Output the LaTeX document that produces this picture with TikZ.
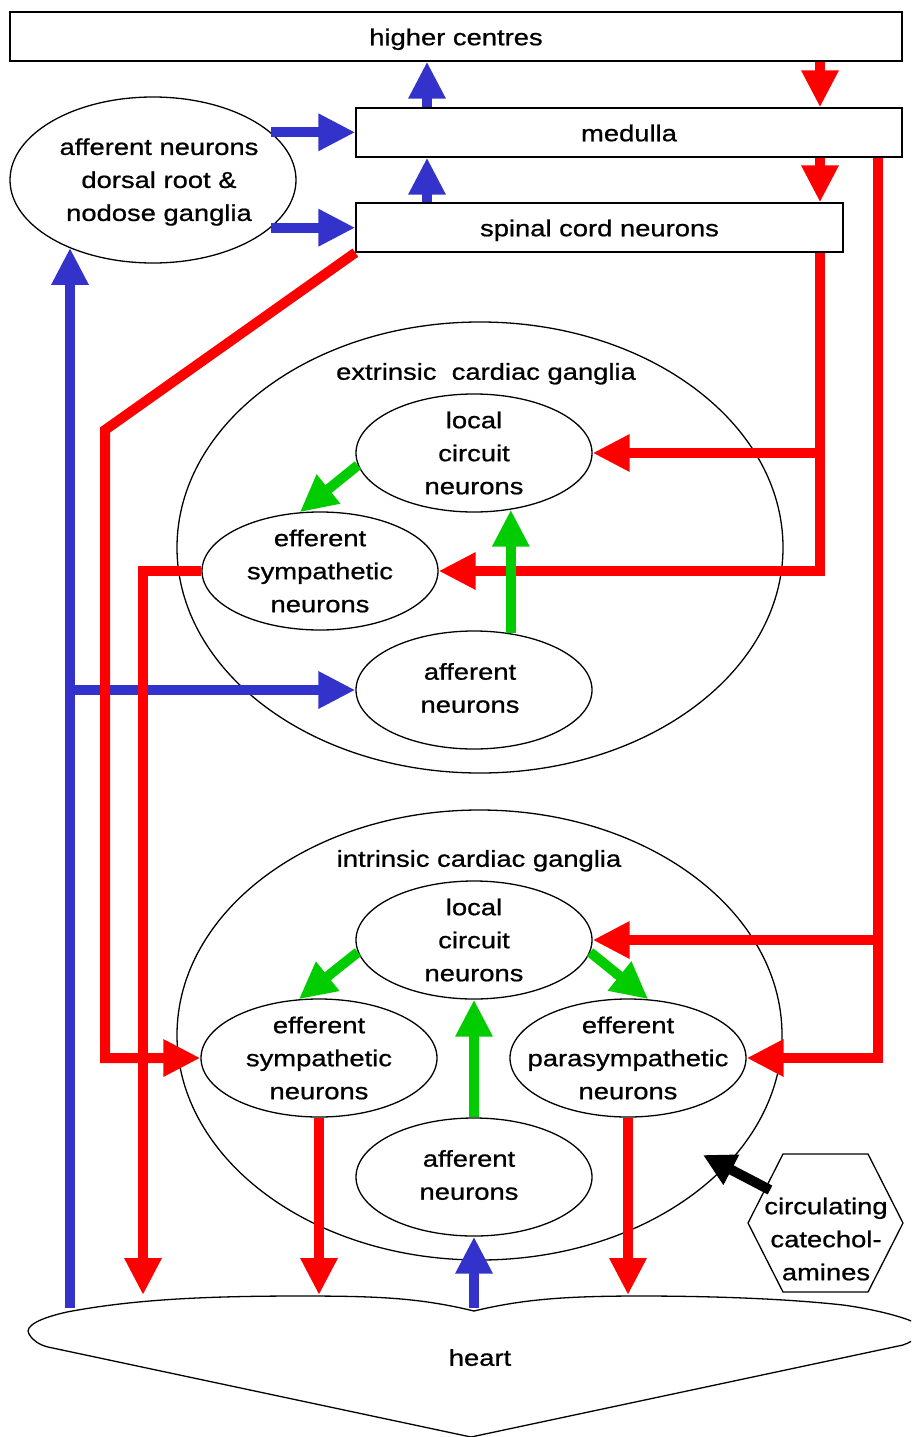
\documentclass[tikz,border=0pt]{standalone}
\usepackage{fontspec}
\setmainfont{Liberation Sans}[FakeStretch=1.19,FakeBold=0.8]
\usetikzlibrary{arrows.meta,shapes.geometric}
\definecolor{myblue}{RGB}{51,51,204}
\definecolor{mygreen}{RGB}{0,204,0}
\definecolor{myred}{RGB}{255,0,0}
\begin{document}
\begin{tikzpicture}[x=1pt,y=-1pt,
  every node/.style={font=\fontsize{23}{33}\selectfont, inner sep=0pt, align=center},
  one/.style={text height=19pt, text depth=1.5pt},
  outl/.style={draw, line width=1.3pt},
  box/.style={outl, rectangle, minimum height=49pt, one},
  ell/.style={outl, ellipse, minimum width=236pt, minimum height=118pt},
  big/.style={outl, ellipse, minimum width=606pt, minimum height=451pt},
  conn/.style={line width=10pt, line join=miter, -{Triangle[length=37pt,width=35pt]}},
  bl/.style={conn, myblue},
  rd/.style={conn, myred},
  gr/.style={conn, mygreen},
  bk/.style={line width=10pt, black, -{Triangle[length=32pt,width=32pt]}}
]
\useasboundingbox (0,0) rectangle (911,1437);
\clip (0,0) rectangle (911,1437);

% boxes
\node[box, minimum width=892pt] (hc) at (456,36.5) {higher centres};
\node[box, minimum width=546pt] (med) at (629,132.5) {medulla};
\node[box, minimum width=487pt] (sp) at (599.5,227.5) {spinal cord neurons};

% afferent neurons (dorsal root / nodose)
\node[outl, ellipse, minimum width=286pt, minimum height=166pt] (aff) at (153,180) {};
\node (afft) at (159,182) {afferent neurons\\dorsal root \&\\nodose ganglia};

% extrinsic cardiac ganglia
\node[big] (ext) at (480,547.5) {};
\node[one] (extt) at (486,371) {extrinsic\ \ cardiac ganglia};
\node[ell] (lce) at (474,453) {};
\node (lcet) at (lce) {local\\circuit\\neurons};
\node[ell] (ese) at (320,571) {};
\node (eset) at (ese) {efferent\\sympathetic\\neurons};
\node[ell] (afe) at (474,690) {};
\node (afet) at (470,688) {afferent\\neurons};

% intrinsic cardiac ganglia
\node[big, minimum width=605pt, minimum height=450pt] (intr) at (479.5,1035) {};
\node[one] (intrt) at (479,858) {intrinsic cardiac ganglia};
\node[ell] (lci) at (474,940) {};
\node (lcit) at (lci) {local\\circuit\\neurons};
\node[ell] (esi) at (319,1058) {};
\node (esit) at (esi) {efferent\\sympathetic\\neurons};
\node[ell] (epi) at (628,1058) {};
\node (epit) at (epi) {efferent\\parasympathetic\\neurons};
\node[ell] (afi) at (474,1177) {};
\node (afit) at (469,1175) {afferent\\neurons};

% circulating catecholamines
\draw[line width=1.3pt] (748,1223) -- (783,1154) -- (868,1154) -- (903,1223) -- (868,1292) -- (783,1292) -- cycle;
\node (cat) at (826,1239) {circulating\\catechol-\\amines};

% heart
\draw[line width=1.3pt] (474,1311) .. controls (420,1298) and (380,1296) .. (300,1296)
  .. controls (200,1296) and (130,1300) .. (67,1312)
  .. controls (40,1318) and (24,1326) .. (29,1334)
  .. controls (33,1341) and (40,1345) .. (48,1347)
  -- (471,1437) -- (903,1345)
  .. controls (915,1341) and (925,1332) .. (920,1326)
  .. controls (915,1320) and (880,1310) .. (843,1305)
  .. controls (780,1298) and (700,1296) .. (640,1296)
  .. controls (560,1296) and (520,1300) .. (474,1311);
\node[one] (heart) at (480,1357) {heart};

% helper coordinates
\coordinate (xa) at (427,0);
\coordinate (xr) at (820,0);
\coordinate (xrr) at (878,0);
\coordinate (xs) at (143,0);
\coordinate (bend) at (105,430);
\coordinate (hl) at (70,1308);
\coordinate (hm) at (474,1308);
\coordinate (tipy) at (0,1295);
\coordinate (catS) at (770,1190);
\coordinate (catT) at (703,1155);

% blue connectors
\draw[bl] (aff.22) -- (aff.22 -| med.west);
\draw[bl] (aff.338) -- (aff.338 -| sp.west);
\draw[bl] (med.north -| xa) -- (hc.south -| xa);
\draw[bl] (sp.north -| xa) -- (med.south -| xa);
\draw[bl] (hl) -- (hl |- aff.219);
\draw[bl] (hl |- afe.west) -- (afe.west);
\draw[bl] (hm) -- (afi.south);

% red connectors
\draw[rd] (hc.south -| xr) -- (med.north -| xr);
\draw[rd] (med.south -| xr) -- (sp.north -| xr);
\draw[rd] (sp.south -| xr) |- (lce.east);
\draw[rd] (lce.east -| xr) |- (ese.east);
\draw[rd] (med.south -| xrr) |- (lci.east);
\draw[rd] (lci.east -| xrr) |- (epi.east);
\draw[rd] (sp.south west) -- (bend) |- (esi.west);
\draw[rd] (ese.west) -| (xs |- tipy);
\draw[rd] (esi.south) -- (esi.south |- tipy);
\draw[rd] (epi.south) -- (epi.south |- tipy);

% green connectors
\draw[gr] (lce.186) -- (ese.109);
\draw[gr] (afe.57) -- (lce.303);
\draw[gr] (lci.186) -- (esi.109);
\draw[gr] (lci.354) -- (epi.71);
\draw[gr] (afi.north) -- (lci.south);

% black connector
\draw[bk] (catS) -- (catT);
\end{tikzpicture}
\end{document}
